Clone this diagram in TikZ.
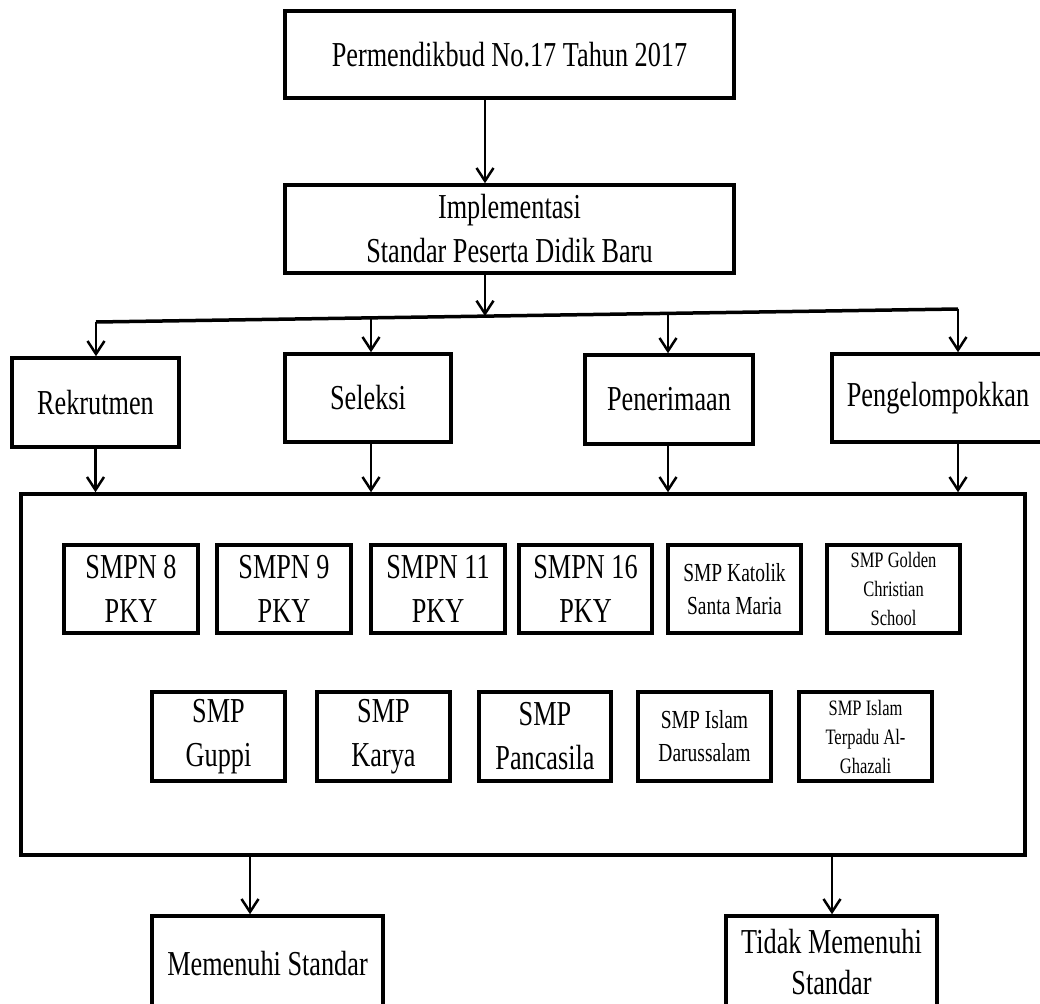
\documentclass[tikz,border=0pt]{standalone}
\usepackage{fontspec}
\setmainfont[FakeStretch=0.75]{Liberation Serif}
\usetikzlibrary{arrows.meta}

\begin{document}
\begin{tikzpicture}[x=1pt,y=-1pt,
    >={Straight Barb[length=13pt,width=17pt]},line join=miter,
    box/.style={draw,line width=3.5pt,fill=white,align=center,inner sep=0pt},
    bigtxt/.style={font=\fontsize{35}{44}\selectfont},
    midtxt/.style={font=\fontsize{26}{33}\selectfont},
    smalltxt/.style={font=\fontsize{22}{29}\selectfont},
    link/.style={->,line width=2.5pt}]
  \clip (0,0) rectangle (1040,1003);
  \fill[white] (0,0) rectangle (1040,1003);
  % Regulation and its implementation.
  \node[box,bigtxt,minimum width=449,minimum height=87] (perm) at (509.5,54.5)
    {Permendikbud No.17 Tahun 2017};
  \node[box,bigtxt,minimum width=449,minimum height=88] (impl) at (509.5,229)
    {Implementasi\\Standar Peserta Didik Baru};
  % The four stages.
  \node[box,bigtxt,minimum width=167,minimum height=89] (rek) at (95.5,402.5) {Rekrutmen};
  \node[box,bigtxt,minimum width=166,minimum height=88] (sel) at (368,398) {Seleksi};
  \node[box,bigtxt,minimum width=168,minimum height=89] (pen) at (669,399.5) {Penerimaan};
  \node[box,bigtxt,minimum width=212,minimum height=88] (peng) at (938,398) {Pengelompokkan};
  % Frame holding the schools.
  \node[box,minimum width=1004,minimum height=361] (main) at (523,674.5) {};
  \node[box,bigtxt,minimum width=134,minimum height=88] (s8) at (131,589) {SMPN 8\\PKY};
  \node[box,bigtxt,minimum width=134,minimum height=88] (s9) at (284,589) {SMPN 9\\PKY};
  \node[box,bigtxt,minimum width=134,minimum height=88] (s11) at (438,589) {SMPN 11\\PKY};
  \node[box,bigtxt,minimum width=133,minimum height=88] (s16) at (585.5,589) {SMPN 16\\PKY};
  \node[box,midtxt,minimum width=133,minimum height=88] (kat) at (734.5,589)
    {SMP Katolik\\Santa Maria};
  \node[box,smalltxt,minimum width=133,minimum height=88] (gold) at (893.5,589)
    {SMP Golden\\Christian\\School};
  \node[box,bigtxt,minimum width=133,minimum height=89] (guppi) at (218.5,736.5) {SMP\\Guppi};
  \node[box,bigtxt,minimum width=133,minimum height=89] (karya) at (383.5,736.5) {SMP\\Karya};
  \node[box,bigtxt,minimum width=132,minimum height=89] (panca) at (545,736.5) {SMP\\Pancasila};
  \node[box,midtxt,minimum width=133,minimum height=89] (darus) at (704.5,736.5)
    {SMP Islam\\Darussalam};
  \node[box,smalltxt,minimum width=133,minimum height=89] (ghaz) at (865.5,736.5)
    {SMP Islam\\Terpadu Al-\\Ghazali};
  % Results.
  \node[box,bigtxt,minimum width=231,minimum height=96] (mem) at (267.5,964) {Memenuhi Standar};
  \node[box,font=\fontsize{35}{41}\selectfont,minimum width=211,minimum height=92] (tidak)
    at (831.5,962) {Tidak Memenuhi\\Standar};
  % Connectors.
  \coordinate (a0) at (485,0);
  \coordinate (d0) at (485,316);
  \coordinate (d1) at (96,322);
  \coordinate (d2) at (371,318);
  \coordinate (d3) at (668,313.5);
  \coordinate (d4) at (958,309);
  \coordinate (o1) at (250,0);
  \coordinate (o2) at (832,0);
  \draw[link] (a0 |- perm.south) -- (a0 |- impl.north);
  \draw[link] (a0 |- impl.south) -- (d0);
  \draw[line width=3.5pt] (d1) -- (d4);
  \draw[link] (d1) -- (d1 |- rek.north);
  \draw[link] (d2) -- (d2 |- sel.north);
  \draw[link] (d3) -- (d3 |- pen.north);
  \draw[link] (d4) -- (d4 |- peng.north);
  \draw[link] (rek.south) -- (rek.south |- main.north);
  \draw[link] (d2 |- sel.south) -- (d2 |- main.north);
  \draw[link] (d3 |- pen.south) -- (d3 |- main.north);
  \draw[link] (d4 |- peng.south) -- (d4 |- main.north);
  \draw[link] (o1 |- main.south) -- (o1 |- mem.north);
  \draw[link] (o2 |- main.south) -- (o2 |- tidak.north);
\end{tikzpicture}
\end{document}
